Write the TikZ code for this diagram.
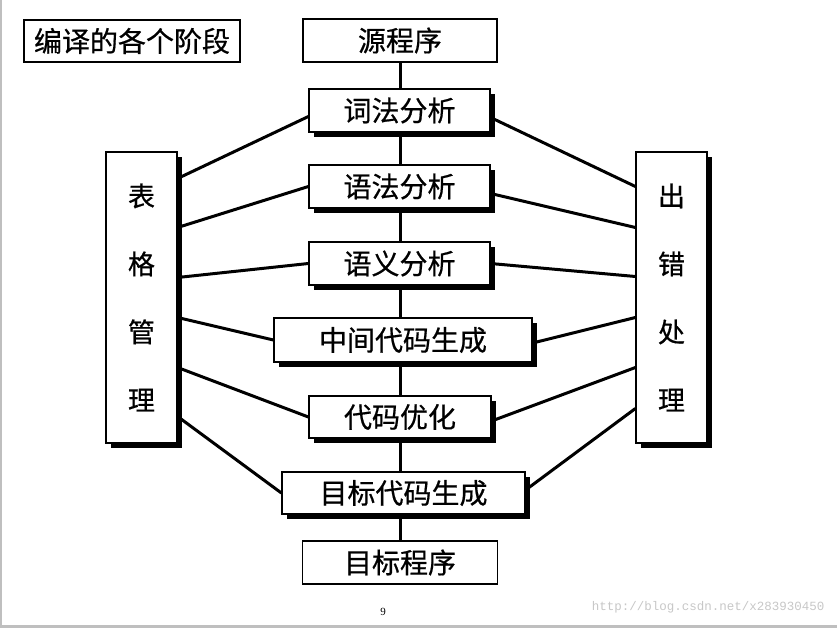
\documentclass[tikz,border=0pt]{standalone}
\usepackage{fontspec}
\usepackage{xcolor}
\usepackage{tikz}
\usetikzlibrary{shadows,backgrounds}
\newfontfamily\cjk[FakeBold=0.6]{Noto Sans CJK SC}
\newfontfamily\wmfont{Liberation Mono}
\newfontfamily\numfont{Liberation Serif}

\begin{document}
\begin{tikzpicture}[x=1pt, y=-1pt,
  box/.style={draw, line width=1.2pt, fill=white, inner sep=0pt, minimum height=43pt, font=\cjk\fontsize{28pt}{30pt}\selectfont},
  stage/.style={box, drop shadow={shadow xshift=5pt, shadow yshift=-5pt, fill=black, opacity=1}},
  side/.style={stage, minimum width=71pt, minimum height=291pt, align=center, font=\cjk\fontsize{27pt}{68pt}\selectfont},
  link/.style={line width=3pt},
  mark9/.style={font=\numfont\fontsize{11pt}{13pt}\selectfont},
  wm/.style={font=\wmfont\fontsize{12.5pt}{14pt}\selectfont, text=black!22}
]
\useasboundingbox (0,0) rectangle (837,628);
\fill[black!25] (0,0) rectangle (1.6,628);
\fill[black!25] (0,625) rectangle (837,628);
\node[box, minimum width=216pt, minimum height=42pt] (title) at (132,41) {编译的各个阶段};
\node[box, minimum width=194pt] (src) at (400,40.5) {源程序};
\node[stage, minimum width=181pt] (lex) at (399.5,110.5) {词法分析};
\node[stage, minimum width=181pt] (syn) at (399.5,186.5) {语法分析};
\node[stage, minimum width=181pt] (sem) at (399.5,263.5) {语义分析};
\node[stage, minimum width=258pt, minimum height=44pt] (mid) at (403,340) {中间代码生成};
\node[stage, minimum width=182pt, minimum height=42pt] (opt) at (400,417) {代码优化};
\node[stage, minimum width=243pt, minimum height=42pt] (gen) at (403.5,493) {目标代码生成};
\node[box, minimum width=195pt] (tgt) at (400,562.5) {目标程序};
\node[side] (tab) at (141.5,297.5) {\raisebox{-6pt}{表}\\\raisebox{-6pt}{格}\\\raisebox{-6pt}{管}\\\raisebox{-6pt}{理}};
\node[side] (err) at (671.5,297.5) {\raisebox{-4pt}{出}\\\raisebox{-4pt}{错}\\\raisebox{-4pt}{处}\\\raisebox{-4pt}{理}};
\node[mark9] (page) at (383,612) {9};
\node[wm, anchor=east] (url) at (828,607) {http://blog.csdn.net/x283930450};
\begin{scope}[on background layer]
\draw[link] (src) -- (tgt);
\draw[link] ([yshift=119pt]tab.east) -- ([yshift=-6pt]lex.west);
\draw[link] ([yshift=70pt]tab.east) -- (syn.west);
\draw[link] ([yshift=20pt]tab.east) -- (sem.west);
\draw[link] ([yshift=-20pt]tab.east) -- (mid.west);
\draw[link] ([yshift=-70pt]tab.east) -- (opt.west);
\draw[link] ([yshift=-119pt]tab.east) -- (gen.west);
\draw[link] ([yshift=-7pt]lex.east) -- ([yshift=111pt]err.west);
\draw[link] ([yshift=-7pt]syn.east) -- ([yshift=70pt]err.west);
\draw[link] (sem.east) -- ([yshift=21pt]err.west);
\draw[link] ([yshift=-3pt]mid.east) -- ([yshift=-20pt]err.west);
\draw[link] ([yshift=-4pt]opt.east) -- ([yshift=-70pt]err.west);
\draw[link] ([yshift=3pt]gen.east) -- ([yshift=-111pt]err.west);
\end{scope}
\end{tikzpicture}
\end{document}
